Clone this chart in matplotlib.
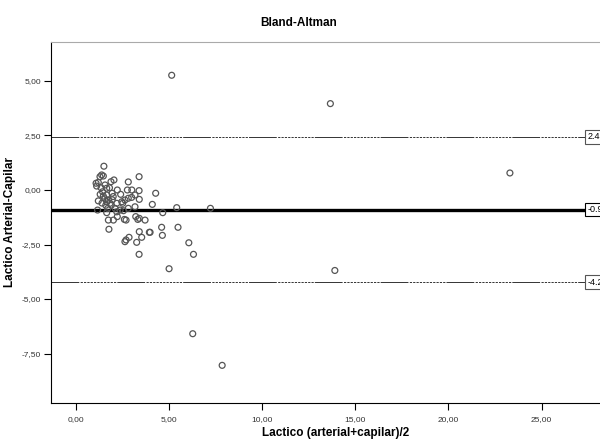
import matplotlib
matplotlib.use("Agg")
import matplotlib.pyplot as plt
from matplotlib.ticker import FuncFormatter

plt.rcParams['font.family'] = ['Liberation Sans', 'DejaVu Sans']
plt.rcParams['lines.scale_dashes'] = False

mean_x = [1.50, 1.29, 1.47, 1.38, 1.08, 1.11, 1.88, 2.04, 1.56, 1.65, 1.43, 2.22, 1.94, 1.65,
          1.47, 1.20, 1.74, 1.83, 1.65, 2.19, 2.46, 2.63, 2.81, 3.39, 2.76, 3.39, 3.17, 2.99,
          2.81, 3.40, 4.28, 4.10, 3.17, 2.81, 2.51, 2.37, 2.19, 2.10, 1.65, 2.01, 2.22, 2.60,
          2.69, 3.21, 3.32, 3.40, 3.71, 4.66, 5.41, 7.22, 1.77, 3.40, 3.53, 3.94, 4.60, 4.64,
          5.48, 2.85, 2.69, 2.63, 3.26, 3.39, 6.06, 6.31, 5.00, 1.16, 1.74,
          1.30, 1.55, 1.90, 1.60, 1.35, 1.20, 2.00, 1.80, 2.40, 1.40, 3.00, 2.55, 1.70, 1.95,
          5.14, 13.66, 23.30, 13.90, 6.27, 7.85, 3.98]
diff_y = [1.09, 0.61, 0.64, 0.69, 0.31, 0.18, 0.38, 0.46, 0.23, 0.08, -0.08, 0.00, -0.15, -0.23,
          -0.28, -0.50, -0.46, -0.61, -0.54, -0.61, -0.54, -0.46, 0.37, 0.61, 0.00, -0.03, -0.23, -0.34,
          -0.38, -0.43, -0.15, -0.66, -0.77, -0.84, -0.61, -0.92, -1.00, -0.84, -1.04, -1.38, -1.22, -1.35,
          -1.38, -1.22, -1.35, -1.30, -1.38, -1.04, -0.81, -0.84, -1.80, -1.91, -2.17, -1.94, -1.71, -2.08,
          -1.71, -2.17, -2.29, -2.37, -2.40, -2.95, -2.42, -2.95, -3.61, -0.92, -1.38,
          -0.20, -0.40, -0.70, -0.70, 0.10, 0.35, -0.30, 0.10, -0.20, -0.60, 0.00, -0.95, -0.85, -0.45,
          5.26, 3.96, 0.78, -3.69, -6.59, -8.04, -1.94]

mean_diff = -0.90
upper_loa = 2.43
lower_loa = -4.23
xticks = [0, 5, 10, 15, 20, 25]
yticks = [-7.5, -5.0, -2.5, 0.0, 2.5, 5.0]

fig = plt.figure(figsize=(6.0, 4.41), dpi=100)
ax = fig.add_axes([0.085, 0.086, 0.948, 0.819])
ax.set_xlim(-1.34, 29.2)
ax.set_ylim(-9.77, 6.79)

ax.scatter(mean_x, diff_y, s=18, facecolors='none', edgecolors='#555555', linewidths=0.9, zorder=3)

dash = [20, 1] + [1.6, 0.8] * 11
for yv in (upper_loa, lower_loa):
    ax.axhline(yv, color='#333333', lw=0.7, dashes=dash, zorder=2)
ax.axhline(mean_diff, color='black', lw=2.4, zorder=2)

for yv in (upper_loa, mean_diff, lower_loa):
    ax.text(27.45, yv, f"{yv:.2f}", fontsize=6.5, va='center', ha='left', zorder=4,
            bbox=dict(boxstyle='square,pad=0.25', fc='white', ec='#555555' if yv != mean_diff else 'black', lw=0.8))

ax.set_xticks(xticks)
ax.set_yticks(yticks)
fmt = FuncFormatter(lambda v, p: f"{v:.2f}".replace('.', ','))
ax.xaxis.set_major_formatter(fmt)
ax.yaxis.set_major_formatter(fmt)
ax.tick_params(axis='both', direction='out', length=5, width=0.8, labelsize=6, labelcolor='#333333', color='black')
ax.tick_params(axis='x', pad=4)
ax.tick_params(axis='y', pad=2)

ax.spines['left'].set_color('black')
ax.spines['bottom'].set_color('black')
ax.spines['top'].set_color('#aaaaaa')
ax.spines['right'].set_visible(False)

ax.set_xlabel("Lactico (arterial+capilar)/2", fontsize=8.5, fontweight='bold', labelpad=3)
ax.set_ylabel("Lactico Arterial-Capilar", fontsize=8.5, fontweight='bold', labelpad=4)
fig.text(0.497, 0.948, "Bland-Altman", fontsize=8.5, fontweight='bold', ha='center', va='center')

fig.savefig("out.png", dpi=100)
